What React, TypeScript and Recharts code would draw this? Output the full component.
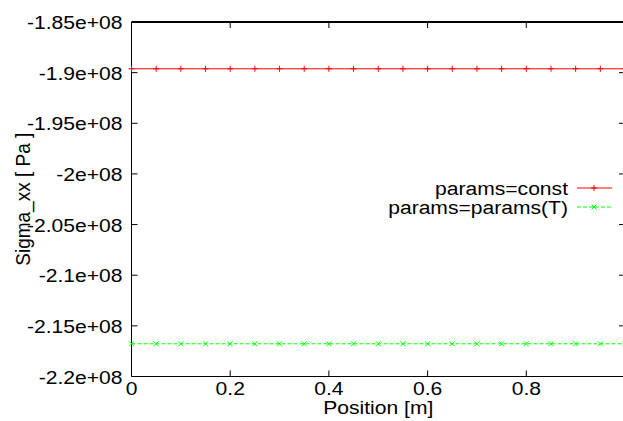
import { LineChart, Line, XAxis, YAxis, Legend, ReferenceLine } from "recharts";

// values
const positions = [0, 0.05, 0.1, 0.15, 0.2, 0.25, 0.3, 0.35, 0.4, 0.45, 0.5, 0.55, 0.6, 0.65, 0.7, 0.75, 0.8, 0.85, 0.9, 0.95, 1.0];
const sigmaConst = [
  -1.8962e8, -1.8962e8, -1.8962e8, -1.8962e8, -1.8962e8, -1.8962e8, -1.8962e8,
  -1.8962e8, -1.8962e8, -1.8962e8, -1.8962e8, -1.8962e8, -1.8962e8, -1.8962e8,
  -1.8962e8, -1.8962e8, -1.8962e8, -1.8962e8, -1.8962e8, -1.8962e8, -1.8962e8,
];
const sigmaParamsT = [
  -2.1677e8, -2.1677e8, -2.1677e8, -2.1677e8, -2.1677e8, -2.1677e8, -2.1677e8,
  -2.1677e8, -2.1677e8, -2.1677e8, -2.1677e8, -2.1677e8, -2.1677e8, -2.1677e8,
  -2.1677e8, -2.1677e8, -2.1677e8, -2.1677e8, -2.1677e8, -2.1677e8, -2.1677e8,
];
const yTicks = [-2.2e8, -2.15e8, -2.1e8, -2.05e8, -2e8, -1.95e8, -1.9e8, -1.85e8];
const xTicks = [0, 0.2, 0.4, 0.6, 0.8];
const seriesNames = ["params=const", "params=params(T)"];

const xDomain = [0, 1];
const yDomain = [-2.2e8, -1.85e8];

const data = positions.map((x, i) => ({ x, constant: sigmaConst[i], paramsT: sigmaParamsT[i] }));

const CHART_W = 627;
const CHART_H = 421;
const MARGIN = { top: 22, right: 2, bottom: 0, left: 0 };
const Y_AXIS_W = 131.5;
const X_AXIS_H = 44.5;
const PLOT_W = CHART_W - MARGIN.left - MARGIN.right - Y_AXIS_W;
const PLOT_H = CHART_H - MARGIN.top - MARGIN.bottom - X_AXIS_H;
const TICK_PX = 6;
// mirror tick lengths in data units
const xTickLen = (TICK_PX / PLOT_W) * (xDomain[1] - xDomain[0]);
const yTickLen = (TICK_PX / PLOT_H) * (yDomain[1] - yDomain[0]);

const FONT = "'Liberation Sans', Arial, Helvetica, sans-serif";
const SX = 1.11; // text looks horizontally stretched in the reference

// gnuplot %g style: -1.85e+08, -2e+08
const fmtY = (v: number) => {
  const [m, e] = v.toExponential().split("e");
  return `${m}e${e[0]}${e.slice(1).padStart(2, "0")}`;
};

function StretchText({ x, y, anchor, children, rotate }: any) {
  const t = rotate
    ? `translate(${x},${y}) rotate(-90) scale(1,${SX})`
    : `translate(${x},${y}) scale(${SX},1)`;
  return (
    <text transform={t} textAnchor={anchor} fontFamily={FONT} fontSize={19} fill="#000">
      {children}
    </text>
  );
}

const LeftTick = ({ x, y, payload }: any) => (
  <g>
    <line x1={x} y1={y} x2={x + TICK_PX} y2={y} stroke="#000" />
    <StretchText x={x - 9} y={y + 7} anchor="end">{fmtY(payload.value)}</StretchText>
  </g>
);

const BottomTick = ({ x, y, payload }: any) => (
  <g>
    <line x1={x} y1={y} x2={x} y2={y - TICK_PX} stroke="#000" />
    <StretchText x={x} y={y + 18} anchor="middle">{String(payload.value)}</StretchText>
  </g>
);

const PlusDot = ({ cx, cy, index }: any) => (
  <g key={`p-${index}`}>
    <line x1={cx} y1={cy - 3} x2={cx} y2={cy + 3} stroke="#ff0000" />
    <line x1={cx - 3} y1={cy} x2={cx + 3} y2={cy} stroke="#ff0000" />
  </g>
);

const CrossDot = ({ cx, cy, index }: any) => (
  <g key={`c-${index}`}>
    <line x1={cx - 2.5} y1={cy - 2.5} x2={cx + 2.5} y2={cy + 2.5} stroke="#00ff00" />
    <line x1={cx - 2.5} y1={cy + 2.5} x2={cx + 2.5} y2={cy - 2.5} stroke="#00ff00" />
  </g>
);

const LegendContent = ({ payload }: any) => (
  <svg width={623} height={50} style={{ display: "block" }}>
    {(payload || []).map((item: any, i: number) => {
      const y = 16 + i * 19;
      return (
        <g key={item.value}>
          <StretchText x={568} y={y + 6.5} anchor="end">{item.value}</StretchText>
          <line
            x1={577}
            y1={y}
            x2={612}
            y2={y}
            stroke={item.color}
            strokeDasharray={i === 1 ? "4 2" : undefined}
          />
          {i === 0 ? <PlusDot cx={594} cy={y} /> : <CrossDot cx={594} cy={y} />}
        </g>
      );
    })}
  </svg>
);

export default function App() {
  return (
    <div style={{ position: "absolute", left: 0, top: 0, width: 623, height: 421, overflow: "hidden", background: "#fff" }}>
      <LineChart width={CHART_W} height={CHART_H} data={data} margin={MARGIN}>
        <XAxis
          dataKey="x"
          type="number"
          domain={xDomain}
          ticks={xTicks}
          height={X_AXIS_H}
          tickSize={0}
          tickMargin={0}
          tickLine={false}
          axisLine={{ stroke: "#000" }}
          tick={<BottomTick />}
          label={{
            content: ({ viewBox }: any) => (
              <StretchText x={viewBox.x + viewBox.width / 2} y={viewBox.y + 37.5} anchor="middle">
                Position [m]
              </StretchText>
            ),
          }}
        />
        <YAxis
          type="number"
          domain={yDomain}
          ticks={yTicks}
          width={Y_AXIS_W}
          tickSize={0}
          tickMargin={0}
          tickLine={false}
          axisLine={{ stroke: "#000" }}
          tick={<LeftTick />}
          label={{
            content: ({ viewBox }: any) => (
              <StretchText x={30} y={viewBox.y + viewBox.height / 2} anchor="middle" rotate>
                Sigma_xx [ Pa ]
              </StretchText>
            ),
          }}
        />
        {/* top and right border of the gnuplot box (clipped to the plot, hence width 2), with mirrored ticks */}
        <ReferenceLine y={yDomain[1]} stroke="#000" strokeWidth={2} ifOverflow="visible" />
        <ReferenceLine x={xDomain[1]} stroke="#000" strokeWidth={2} ifOverflow="visible" />
        {xTicks.map((t) => (
          <ReferenceLine
            key={`tx-${t}`}
            segment={[{ x: t, y: yDomain[1] }, { x: t, y: yDomain[1] - yTickLen }]}
            stroke="#000"
            ifOverflow="visible"
          />
        ))}
        {yTicks.map((t) => (
          <ReferenceLine
            key={`ty-${t}`}
            segment={[{ x: xDomain[1], y: t }, { x: xDomain[1] - xTickLen, y: t }]}
            stroke="#000"
            ifOverflow="visible"
          />
        ))}
        <Legend
          layout="vertical"
          align="center"
          verticalAlign="middle"
          wrapperStyle={{ left: 0, top: 172, width: 623, height: 50 }}
          content={<LegendContent />}
        />
        <Line
          dataKey="constant"
          name={seriesNames[0]}
          stroke="#ff0000"
          strokeWidth={1}
          dot={<PlusDot />}
          activeDot={false}
          isAnimationActive={false}
        />
        <Line
          dataKey="paramsT"
          name={seriesNames[1]}
          stroke="#00ff00"
          strokeWidth={1}
          strokeDasharray="4 2"
          dot={<CrossDot />}
          activeDot={false}
          isAnimationActive={false}
        />
      </LineChart>
    </div>
  );
}
